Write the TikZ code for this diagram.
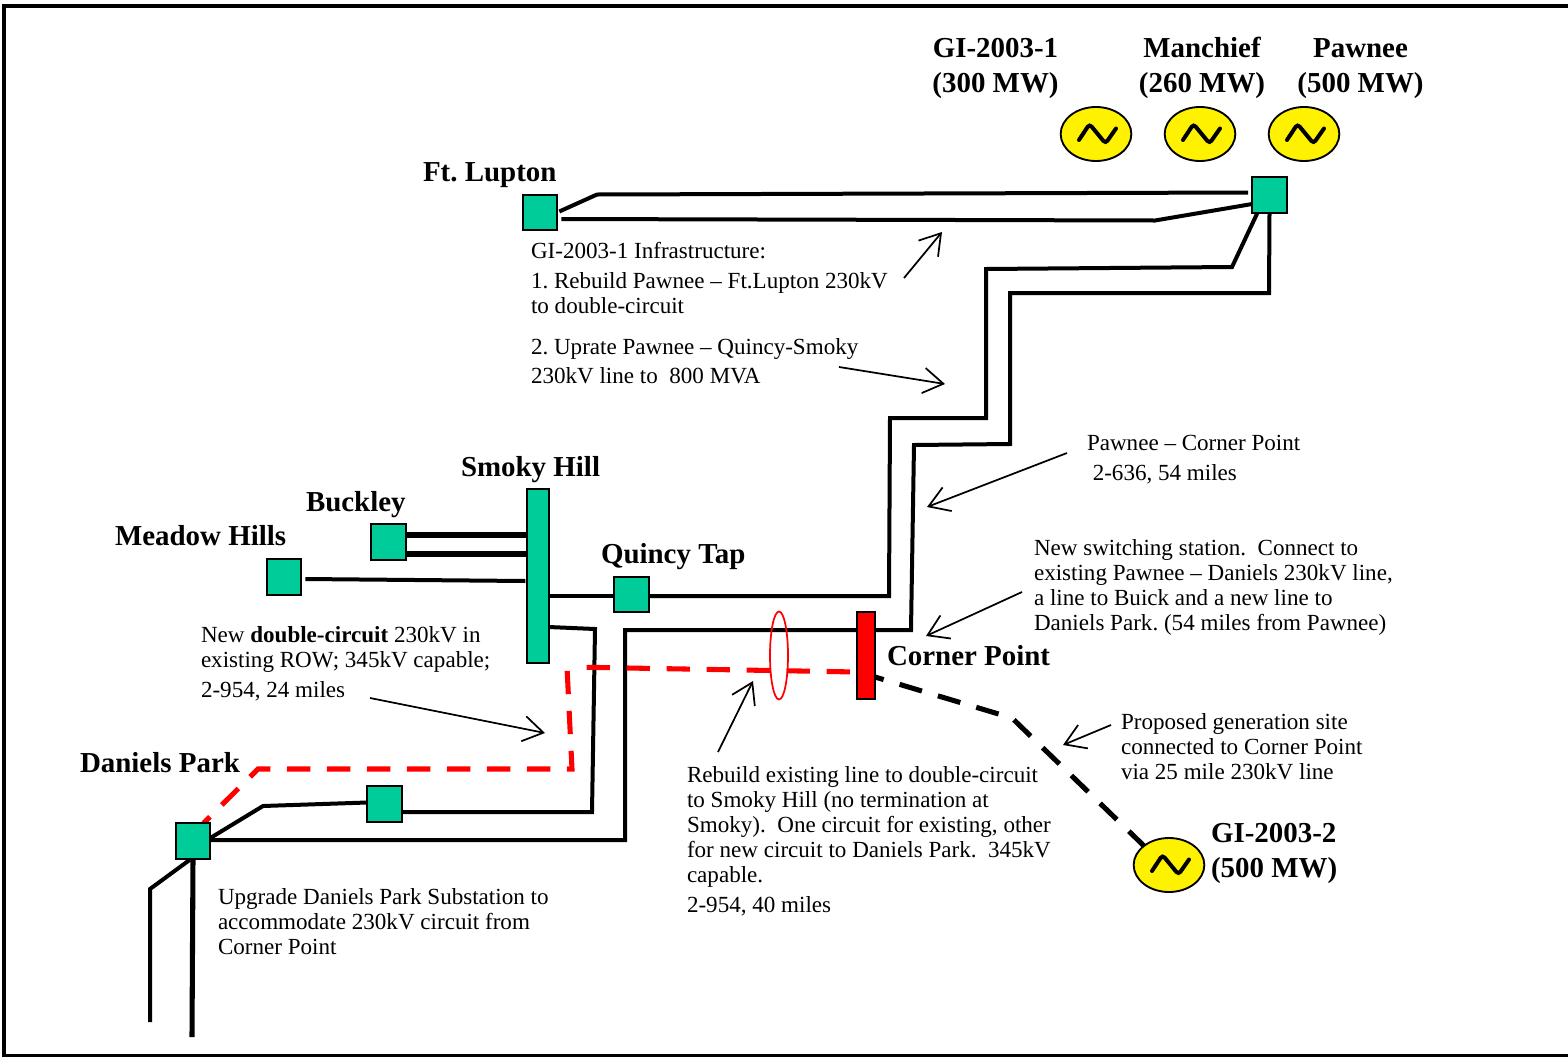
\documentclass[tikz,border=0pt]{standalone}
\usepackage{fontspec}
\setmainfont{Liberation Serif}
\usetikzlibrary{arrows.meta,backgrounds,shapes.geometric}
\definecolor{busgreen}{HTML}{00CC99}
\frenchspacing
\newcommand{\fs}{\rule{0pt}{15pt}}
\newcommand{\sinewave}[1]{\draw[sinewave] ([shift={(-17,6)}]#1.center) -- ([shift={(-6.5,-10)}]#1.center) -- ([shift={(9.5,9.5)}]#1.center) -- ([shift={(20,-5.5)}]#1.center);}
\tikzset{
  bus/.style={draw=black,fill=busgreen,line width=1.6pt,inner sep=0pt,outer sep=0pt,minimum width=26pt,minimum height=26.5pt},
  vbus/.style={bus,minimum width=16pt,minimum height=130pt},
  redbus/.style={bus,fill=red,minimum width=13.5pt,minimum height=65pt},
  gen/.style={draw=black,fill=yellow,ellipse,line width=1.4pt,inner sep=0pt,outer sep=0pt,minimum width=53pt,minimum height=40.5pt},
  sinewave/.style={black,line width=3pt,rounded corners=2.5pt,line cap=round},
  wire/.style={black,line width=3pt,line join=miter},
  wirethick/.style={black,line width=3.8pt},
  reddash/.style={red,line width=3.8pt,dash pattern=on 17.5pt off 12.5pt,dash phase=10.5pt},
  reddashb/.style={red,line width=3.8pt,dash pattern=on 17.5pt off 12.5pt,dash phase=17.5pt},
  blackdash/.style={black,line width=3.8pt,dash pattern=on 17.5pt off 12.5pt,dash phase=10.75pt},
  callout/.style={black,line width=1.3pt,-{Straight Barb[length=15pt,width=19pt,line width=1.3pt]}},
  lbl/.style={anchor=north west,inner sep=0pt,outer sep=0pt,align=left,font=\fontsize{17.3}{18.75}\selectfont},
  head/.style={anchor=base,inner sep=0pt,outer sep=0pt,font=\fontsize{21.7}{26.25}\selectfont\bfseries},
  headw/.style={head,anchor=base west},
}
\begin{document}
\begin{tikzpicture}[x=0.75pt,y=-0.75pt]
\useasboundingbox (0,0) rectangle (1568,1057);
\coordinate (frameA) at (4,6);
\coordinate (frameB) at (1572,1056);

% substations
\node[bus] (ftl) at (540,212.5) {};
\node[bus] (paw) at (1269.5,195) {};
\node[bus] (buc) at (388.5,542) {};
\node[bus] (mea) at (284,577) {};
\node[vbus] (smo) at (538,576) {};
\node[bus] (qui) at (631.5,594.5) {};
\node[bus] (mid) at (384.5,804) {};
\node[bus] (dan) at (193,841) {};
\node[redbus] (cor) at (866,655.5) {};

% generators
\node[gen] (g1) at (1096,134) {};
\node[gen] (g2) at (1200,134) {};
\node[gen] (g3) at (1304,134) {};
\node[gen] (g4) at (1169,865) {};
\sinewave{g1}\sinewave{g2}\sinewave{g3}\sinewave{g4}

% free ends
\coordinate (southA) at (150,1022);
\coordinate (southB) at (192,1037);
\coordinate (redbend) at (567,667);
\coordinate (a1s) at (904,278); \coordinate (a1e) at (942,232);
\coordinate (a2s) at (839,367); \coordinate (a2e) at (945,384);
\coordinate (a3s) at (1067,453); \coordinate (a3e) at (927,507);
\coordinate (a4s) at (1022,592); \coordinate (a4e) at (926,636);
\coordinate (a5s) at (370,698); \coordinate (a5e) at (545,733);
\coordinate (a6s) at (718,752); \coordinate (a6e) at (753,681);
\coordinate (a7s) at (1111,725); \coordinate (a7e) at (1063,745);

\begin{pgfonlayer}{background}
\fill[white] (0,0) rectangle (1568,1057);
\draw[black,line width=3pt] (frameA) rectangle (frameB);
\draw[wire] ([shift={(2,-1)}]ftl.east) -- (597,194.5) -- ([shift={(-4,-2.5)}]paw.west);
\draw[wire] ([shift={(4,6.5)}]ftl.east) -- (1155,220.5) -- ([shift={(0,9)}]paw.west);
\draw[wire] ([shift={(-12,0)}]paw.south) -- (1232,267) -- (986,269) -- (986,418) -- (890,418) -- (889,596) -- ([shift={(0,1.5)}]qui.east);
\draw[wire] ([shift={(0,1)}]paw.south) -- (1269,293) -- (1010,293) -- (1010,444) -- (914,445) -- (911,630) -- (625,630) -- (625,840) -- ([shift={(0,-1)}]dan.east);
\draw[wire] ([shift={(0,1.5)}]smo.east |- qui.west) -- ([shift={(0,1.5)}]qui.west);
\draw[wirethick] ([shift={(0,-7)}]buc.east) -- ([shift={(0,-7)}]smo.west |- buc.east);
\draw[wirethick] ([shift={(0,12)}]buc.east) -- ([shift={(0,12)}]smo.west |- buc.east);
\draw[wire] ([shift={(4,2)}]mea.east) -- ([shift={(-2,4)}]smo.west |- mea.east);
\draw[wire] ([shift={(0,51)}]smo.east) -- (595,629) -- (592,812) -- ([shift={(0,8)}]mid.east);
\draw[wire] ([shift={(0,-1.5)}]mid.west) -- (263,806) -- ([shift={(0,-3)}]dan.east);
\draw[wirethick] (dan.south) -- (southB);
\draw[wire] ([shift={(-3,1)}]dan.south) -- (150,889) -- (southA);
\draw[reddash] ([shift={(-7,0)}]dan.north east) -- (258,769) -- (572,769) -- (redbend);
\draw[reddashb] ([shift={(3,0)}]redbend) -- ([shift={(0,16.5)}]cor.west);
\draw[blackdash] ([shift={(0,21.5)}]cor.east) -- (1012,718) -- (g4.north west);
\end{pgfonlayer}
\node[draw=red,line width=1.3pt,ellipse,inner sep=0pt,minimum width=13.5pt,minimum height=66pt] (ring) at (779,655.5) {};

% callout arrows
\draw[callout] (a1s) -- (a1e);
\draw[callout] (a2s) -- (a2e);
\draw[callout] (a3s) -- (a3e);
\draw[callout] (a4s) -- (a4e);
\draw[callout] (a5s) -- (a5e);
\draw[callout] (a6s) -- (a6e);
\draw[callout] (a7s) -- (a7e);

% headings
\node[head] (t1a) at (995.5,57) {GI-2003-1};
\node[head] (t1b) at (995.5,92) {(300 MW)};
\node[head] (t2a) at (1202,57) {Manchief};
\node[head] (t2b) at (1202,92) {(260 MW)};
\node[head] (t3a) at (1360.5,57) {Pawnee};
\node[head] (t3b) at (1360.5,92) {(500 MW)};
\node[headw] (t4) at (423,181) {Ft. Lupton};
\node[headw] (t5) at (461,476) {Smoky Hill};
\node[headw] (t6) at (306,511) {Buckley};
\node[headw] (t7) at (115,545) {Meadow Hills};
\node[headw] (t8) at (601,563) {Quincy Tap};
\node[headw] (t9) at (80,772) {Daniels Park};
\node[headw] (t10) at (887,665) {Corner Point};
\node[headw] (t11) at (1211,842) {GI-2003-2};
\node[headw] (t12) at (1211,877) {(500 MW)};

% notes
\node[lbl] (n1) at (531,238) {\fs GI-2003-1 Infrastructure:\\[3.75pt]
1. Rebuild Pawnee – Ft.Lupton 230kV\\
to double-circuit\\[12pt]
2. Uprate Pawnee – Quincy-Smoky\\[3pt]
230kV line to\ \ 800 MVA};
\node[lbl] (n2) at (1087,430) {\fs Pawnee – Corner Point\\[3.75pt]
\ 2-636, 54 miles};
\node[lbl] (n3) at (1034,535) {\fs New switching station.\ \ Connect to\\
existing Pawnee – Daniels 230kV line,\\
a line to Buick and a new line to\\
Daniels Park. (54 miles from Pawnee)};
\node[lbl] (n4) at (201,622) {\fs New \textbf{double-circuit} 230kV in\\
existing ROW; 345kV capable;\\[3.75pt]
2-954, 24 miles};
\node[lbl] (n5) at (687,762) {\fs Rebuild existing line to double-circuit\\
to Smoky Hill (no termination at\\
Smoky).\ \ One circuit for existing, other\\
for new circuit to Daniels Park.\ \ 345kV\\
capable.\\[3.75pt]
2-954, 40 miles};
\node[lbl] (n6) at (1121,709.5) {\fs Proposed generation site\\
connected to Corner Point\\
via 25 mile 230kV line};
\node[lbl] (n7) at (218,884) {\fs Upgrade Daniels Park Substation to\\
accommodate 230kV circuit from\\
Corner Point};
\end{tikzpicture}
\end{document}
